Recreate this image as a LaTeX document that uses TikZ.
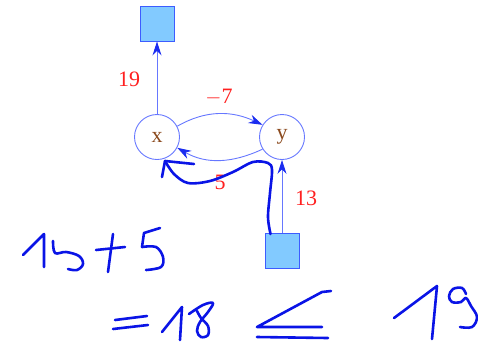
\documentclass[tikz,border=0pt]{standalone}
\usepackage{fontspec}
\setmainfont{Liberation Serif}
\usetikzlibrary{arrows.meta}
\definecolor{boxfill}{HTML}{82CAFF}
\definecolor{boxline}{HTML}{3D5CFF}
\definecolor{edgeblue}{HTML}{6677FF}
\definecolor{tipblue}{HTML}{1A2CF0}
\definecolor{varbrown}{HTML}{8B4A1E}
\definecolor{lblred}{HTML}{FF2020}
\definecolor{ink}{HTML}{0A14E6}
\tikzset{
  vbox/.style={draw=boxline, fill=boxfill, line width=0.9pt, minimum width=34pt, minimum height=35pt, inner sep=0pt},
  var/.style={draw=edgeblue, circle, line width=0.9pt, minimum size=45pt, inner sep=0pt, text=varbrown, font=\fontsize{22}{26}\selectfont},
  edge/.style={draw=edgeblue, line width=0.9pt, -{Stealth[length=14pt,width=9pt,inset=4.5pt,color=tipblue]}},
  lbl/.style={text=lblred, font=\fontsize{22}{26}\selectfont, inner sep=0pt},
  pen/.style={draw=ink, line width=2.6pt, line cap=round, line join=round}
}
\begin{document}
\begin{tikzpicture}[x=1pt,y=-1pt]
\useasboundingbox (0,0) rectangle (478,346);
\begin{scope}
\clip (0,0) rectangle (478,346);
% graph
\node[vbox] (top) at (157,23.5) {};
\node[var] (x) at (157,137) {x};
\node[var] (y) at (282,137) {y};
\node[vbox] (bot) at (282,251) {};
\draw[edge] (x) -- (top);
\draw[edge] (x.28) to[out=30,in=155] (y.148);
\draw[edge] (y.212) to[out=205,in=-30] (x.-28);
\draw[edge] (bot) -- (y);
\node[lbl] (l19) at (129,79) {19};
\node[lbl] (l7) at (219,97) {$-$7};
\node[lbl] (l5) at (220,182) {5};
\node[lbl] (l13) at (306,198) {13};
% handwritten arrow from the lower box to x
\draw[pen] plot[smooth, tension=0.55] coordinates {(270.5,234) (268,217) (270,193) (272,170) (268,163) (253,162) (233,172) (210,181) (188,183) (174,174) (165,161)};
\draw[pen] (165,161) -- (194,164);
\draw[pen] (165,161) -- (162,177);
% handwritten 15+5
\draw[pen] (23,255) -- (44,234) -- (44,267);
\draw[pen] plot[smooth, tension=0.6] coordinates {(53,241) (55,253) (66,252) (79,256) (83,264) (77,270) (68,269)};
\draw[pen] (96,250) -- (125,247);
\draw[pen] (113,234) -- (108,272);
\draw[pen] (160,228) -- (144,233) -- (142,247);
\draw[pen] plot[smooth, tension=0.6] coordinates {(142,247) (156,247) (163,257) (161,267) (146,270)};
% handwritten =18 <= 19
\draw[pen] (115,320) -- (147,316);
\draw[pen] (113,329) -- (148,325);
\draw[pen] (162,332) -- (182,307) -- (180,340);
\draw[pen] plot[smooth, tension=0.6] coordinates {(189,314) (203,305) (213,303) (208,312) (200,322) (197,331) (201,337) (208,335) (208,326) (201,318) (197,311)};
\draw[pen] (331,291) -- (322,292) -- (257,327) -- (322,327);
\draw[pen] (257,337) -- (328,338);
\draw[pen] (394,318) -- (437,286) -- (432,339);
\draw[pen] plot[smooth, tension=0.6] coordinates {(466,294) (462,288) (453,289) (449,296) (452,302) (461,302) (466,298) (471,306) (477,317) (472,327) (460,327)};
\end{scope}
\end{tikzpicture}
\end{document}
